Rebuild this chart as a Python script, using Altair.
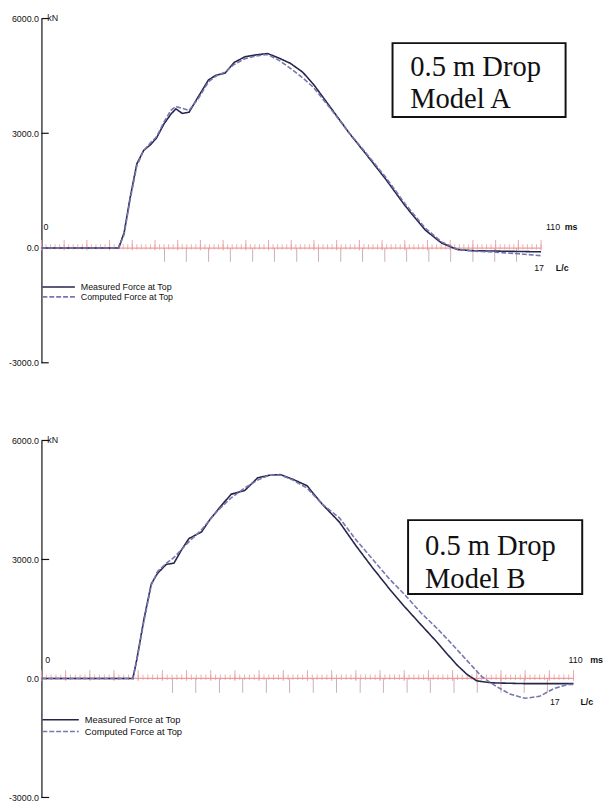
import altair as alt
import pandas as pd

SERIES = ["Measured Force at Top", "Computed Force at Top"]

# ---- Panel A (top) ----
t_A = [0, 10, 17.0, 18.2, 19.5, 21.0, 22.5, 24.0, 25.3, 27.0, 28.5, 29.6, 31.0, 32.5, 34.5, 36.8, 38.5,
       40.4, 42.4, 44.8, 47.2, 49.8, 52.4, 54.8, 57.5, 59.9, 63.8, 67.8, 71.5, 75.8, 80.1, 84.5, 88.1,
       91.6, 95.0, 100, 105, 110]
meas_A = [0, 0, 0, 400, 1300, 2200, 2550, 2700, 2870, 3250, 3500, 3640, 3520, 3550, 3950, 4400, 4520,
          4570, 4850, 5000, 5050, 5085, 4960, 4830, 4600, 4280, 3650, 3000, 2450, 1800, 1100, 470, 130,
          -40, -70, -80, -90, -100]
comp_A = [0, 0, 0, 350, 1250, 2150, 2550, 2750, 2900, 3300, 3600, 3700, 3650, 3600, 3900, 4350, 4500,
          4600, 4800, 4950, 5020, 5060, 4900, 4700, 4450, 4200, 3620, 3000, 2480, 1850, 1150, 520, 160,
          -30, -80, -110, -150, -200]

# ---- Panel B (bottom) ----
t_B_meas = [0, 10, 18.9, 19.7, 21.2, 22.7, 24.0, 25.8, 27.4, 29.0, 30.5, 33.1, 34.8, 36.6, 39.2, 42.0,
            44.7, 47.0, 49.4, 52.0, 54.9, 58.0, 61.6, 65.0, 68.5, 72.0, 75.2, 78.5, 81.9, 84.0, 86.0,
            88.0, 90.0, 93.0, 100, 105, 110]
meas_B = [0, 0, 0, 470, 1500, 2380, 2650, 2876, 2908, 3250, 3528, 3694, 4000, 4272, 4644, 4735,
          5058, 5120, 5140, 5020, 4860, 4400, 3942, 3350, 2784, 2250, 1793, 1350, 900, 600, 330,
          100, -60, -110, -130, -130, -130]
t_B_comp = [0, 10, 18.9, 19.7, 21.2, 22.7, 24.0, 25.8, 27.4, 30.5, 33.1, 36.6, 39.2, 42.0, 44.7,
            47.0, 49.4, 52.0, 54.9, 58.0, 61.6, 65.0, 68.5, 72.0, 75.2, 78.5, 81.9, 85.0, 88.0, 91.0,
            94.0, 97.0, 100.0, 103.0, 106.0, 109.0, 110]
comp_B = [0, 0, 0, 450, 1450, 2350, 2700, 2900, 3050, 3450, 3750, 4250, 4550, 4800, 5000,
          5120, 5130, 5000, 4800, 4400, 4050, 3500, 3000, 2500, 2100, 1650, 1250, 850, 450, 50,
          -200, -400, -500, -450, -250, -150, -150]

# axis / ruler values
Y_TICKS = [-3000, 0, 3000, 6000]
MS_DOMAIN = [0, 110]
MINOR_MS = list(range(0, 111))
MAJOR_MS = list(range(0, 111, 5))
LC_MS = [27.1, 31.9, 36.8, 41.6, 46.5, 51.3, 56.2, 61.0, 65.9, 70.7, 75.6, 80.4, 85.3, 90.1, 95.0, 99.8, 104.6]

PINK = "#ec9c9c"
LC_COLOR = "#c9a3ad"
DARK = "#25254a"
LIGHT = "#7676b0"
FONT = "Liberation Sans"


def panel(t_m, v_m, t_c, v_c, width, height, box, title_lines, txt, legend_pos):
    xs = alt.Scale(domain=MS_DOMAIN, nice=False, zero=False)
    ys = alt.Scale(domain=[-3000, 6000], nice=False, zero=False)
    yaxis = alt.Axis(values=Y_TICKS, tickSize=0, grid=False, title=None, domainColor="#111",
                     domainWidth=1.2, labelFont=FONT, labelFontSize=9, labelColor="#111",
                     labelPadding=3, minExtent=32, maxExtent=32,
                     labelExpr="datum.value < 0 ? '-' + format(-datum.value, '.1f') : format(datum.value, '.1f')")
    X = lambda f: alt.X(f, scale=xs, axis=None)
    Y = lambda f: alt.Y(f, scale=ys, axis=yaxis)

    base_df = pd.DataFrame({"x0": [MS_DOMAIN[0]], "x1": [MS_DOMAIN[1]], "y": [0]})
    baseline = alt.Chart(base_df).mark_rule(color=PINK, strokeWidth=1.3).encode(
        x=X("x0:Q"), x2="x1:Q", y=Y("y:Q"))

    minor = alt.Chart(pd.DataFrame({"ms": MINOR_MS, "lo": -40, "hi": 100})).mark_rule(
        color=PINK, strokeWidth=0.8).encode(x=X("ms:Q"), y=Y("lo:Q"), y2="hi:Q")
    major = alt.Chart(pd.DataFrame({"ms": MAJOR_MS, "lo": -60, "hi": 210})).mark_rule(
        color=PINK, strokeWidth=0.9).encode(x=X("ms:Q"), y=Y("lo:Q"), y2="hi:Q")
    lc = alt.Chart(pd.DataFrame({"ms": LC_MS, "lo": -360, "hi": 0})).mark_rule(
        color=LC_COLOR, strokeWidth=0.9).encode(x=X("ms:Q"), y=Y("lo:Q"), y2="hi:Q")

    ytick_df = pd.DataFrame({"x0": 0, "x1": 1.6, "y": [-3000, 3000, 6000]})
    yticks = alt.Chart(ytick_df).mark_rule(color="#111", strokeWidth=1.2).encode(
        x=X("x0:Q"), x2="x1:Q", y=Y("y:Q"))

    df = pd.concat([
        pd.DataFrame({"ms": t_m, "kN": v_m, "series": SERIES[0]}),
        pd.DataFrame({"ms": t_c, "kN": v_c, "series": SERIES[1]}),
    ])
    lx, ly, lsize, lfont, lclip = legend_pos
    leg = alt.Legend(orient="none", legendX=lx, legendY=ly, title=None, symbolType="stroke",
                     symbolSize=lsize, symbolStrokeWidth=1.6, labelFont=FONT, labelFontSize=lfont,
                     labelColor="#111", rowPadding=0, padding=0, labelOffset=5, clipHeight=lclip)
    lines = alt.Chart(df).mark_line(strokeWidth=1.6).encode(
        x=X("ms:Q"), y=Y("kN:Q"),
        color=alt.Color("series:N", scale=alt.Scale(domain=SERIES, range=[DARK, LIGHT]), legend=leg),
        strokeDash=alt.StrokeDash("series:N", scale=alt.Scale(domain=SERIES, range=[[1, 0], [5, 2]]),
                                  legend=leg),
        order="ms:Q")

    box_df = pd.DataFrame({"x0": [box[0]], "x1": [box[1]], "y0": [box[2]], "y1": [box[3]]})
    rect = alt.Chart(box_df).mark_rect(fill="white", stroke="#111", strokeWidth=2).encode(
        x=X("x0:Q"), x2="x1:Q", y=Y("y0:Q"), y2="y1:Q")
    ttl_df = pd.DataFrame({"x": [t[0] for t in title_lines], "y": [t[1] for t in title_lines],
                           "label": [t[2] for t in title_lines]})
    ttl = alt.Chart(ttl_df).mark_text(font="Liberation Serif", fontSize=29, color="#111",
                                      align="left", baseline="alphabetic").encode(
        x=X("x:Q"), y=Y("y:Q"), text="label:N")

    layers = [baseline, minor, major, lc, yticks, lines, rect, ttl]
    for (xv, yv, label, dx, dy, size, weight) in txt:
        tdf = pd.DataFrame({"x": [xv], "y": [yv], "label": [label]})
        layers.append(alt.Chart(tdf).mark_text(font=FONT, fontSize=size, fontWeight=weight,
                                               color="#111", align="left", baseline="middle",
                                               dx=dx, dy=dy).encode(
            x=X("x:Q"), y=Y("y:Q"), text="label:N"))
    return alt.layer(*layers).properties(width=width, height=height)


top = panel(
    t_A, meas_A, t_A, comp_A, 508, 350,
    box=(77.3, 115.4, 5357, 3425),
    title_lines=[(81.2, 4507, "0.5 m Drop"), (81.2, 3657, "Model A")],
    txt=[(0, 6000, "kN", 6, 0, 9, "normal"),
         (0, 0, "0", 2, -21, 9, "normal"),
         (110, 0, "110", 5, -21, 9, "normal"),
         (110, 0, "ms", 24, -21, 9, "bold"),
         (110, 0, "17", -7, 20, 9, "normal"),
         (110, 0, "L/c", 15, 20, 9, "bold")],
    legend_pos=(0, 268, 1089, 9, 10),
)

bottom = panel(
    t_B_meas, meas_B, t_B_comp, comp_B, 541, 363,
    box=(75.8, 111.8, 3992, 2132),
    title_lines=[(79.3, 3124, "0.5 m Drop"), (79.3, 2281, "Model B")],
    txt=[(0, 6000, "kN", 6, 0, 9, "normal"),
         (0, 0, "0", 4, -19, 9, "normal"),
         (110, 0, "110", -5, -19, 9, "normal"),
         (110, 0, "ms", 17, -19, 9, "bold"),
         (110, 0, "17", -24, 24, 9, "normal"),
         (110, 0, "L/c", 7, 24, 9, "bold")],
    legend_pos=(0, 278, 1369, 9.5, 12),
)

chart = alt.vconcat(top, bottom, spacing=70).resolve_scale(
    color="independent", strokeDash="independent", x="independent", y="independent"
).properties(padding={"left": 0, "top": 0, "right": 0, "bottom": 0}).configure_view(stroke=None)

chart.save("out.html", embed_options={"renderer": "svg", "actions": False})
